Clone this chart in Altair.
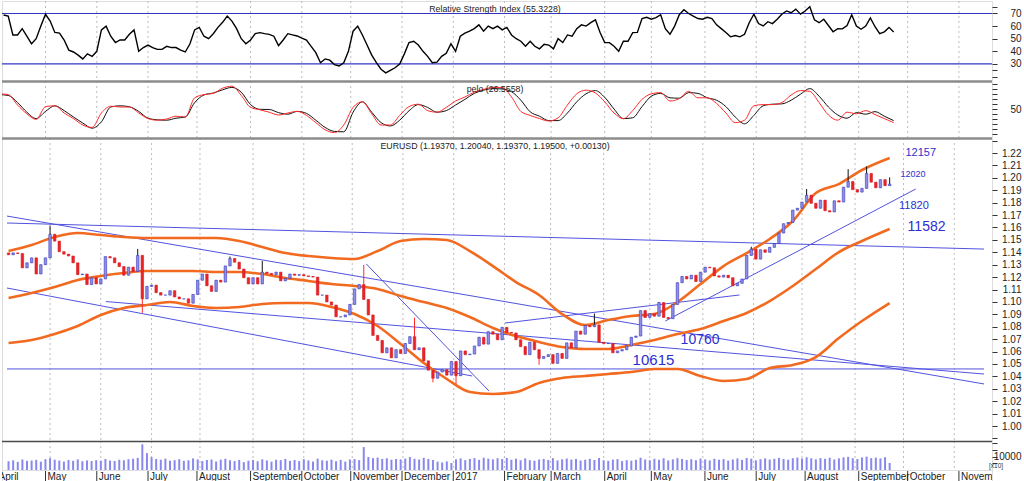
import altair as alt
import pandas as pd

FONT = "Liberation Sans"

# ---------------- values ----------------
# x position = trading-day index t (t = 0 is 2 May 2016, one unit per trading day)
X_DOMAIN = [-18.67, 406.2]

# EURUSD closes, every 2nd trading day, t = -18, -16, ..., 364
CANDLE_T_START, CANDLE_STEP = -18, 2
first_open = 1.1395
closes = [
    1.1380, 1.1395, 1.1390, 1.1275, 1.1315, 1.1355, 1.1225, 1.1300, 1.1355,
    1.1545, 1.1490, 1.1405, 1.1385, 1.1370, 1.1315, 1.1220, 1.1225, 1.1140, 1.1195,
    1.1145, 1.1185, 1.1365, 1.1355, 1.1315, 1.1285, 1.1215, 1.1280, 1.1245, 1.1375,
    1.1025, 1.1125, 1.1135, 1.1075, 1.1055, 1.1055, 1.1090, 1.1040, 1.1025, 1.1025,
    1.0990, 1.1060, 1.1175, 1.1225, 1.1130, 1.1085, 1.1175, 1.1160, 1.1290, 1.1350,
    1.1320, 1.1265, 1.1195, 1.1145, 1.1195, 1.1145, 1.1240, 1.1230, 1.1220, 1.1240,
    1.1170, 1.1190, 1.1225, 1.1215, 1.1220, 1.1210, 1.1205, 1.1200, 1.1055, 1.1055,
    1.1000, 1.0975, 1.0880, 1.0880, 1.0895, 1.0980, 1.1105, 1.1140, 1.1020, 1.0895,
    1.0730, 1.0690, 1.0590, 1.0630, 1.0550, 1.0615, 1.0585, 1.0665, 1.0720, 1.0615,
    1.0630, 1.0525, 1.0450, 1.0385, 1.0435, 1.0455, 1.0410, 1.0520, 1.0405, 1.0605,
    1.0575, 1.0580, 1.0645, 1.0715, 1.0660, 1.0760, 1.0740, 1.0695, 1.0795, 1.0755,
    1.0750, 1.0695, 1.0640, 1.0575, 1.0675, 1.0615, 1.0545, 1.0560, 1.0575, 1.0505,
    1.0585, 1.0545, 1.0670, 1.0630, 1.0765, 1.0740, 1.0810, 1.0800, 1.0815, 1.0675,
    1.0665, 1.0665, 1.0590, 1.0605, 1.0615, 1.0645, 1.0715, 1.0725, 1.0930, 1.0875,
    1.0905, 1.0885, 1.0995, 1.0875, 1.0865, 1.0980, 1.1155, 1.1205, 1.1185, 1.1215,
    1.1165, 1.1240, 1.1280, 1.1275, 1.1210, 1.1200, 1.1215, 1.1195, 1.1130, 1.1150,
    1.1185, 1.1375, 1.1425, 1.1345, 1.1420, 1.1400, 1.1440, 1.1470, 1.1555, 1.1630,
    1.1640, 1.1740, 1.1755, 1.1805, 1.1860, 1.1795, 1.1755, 1.1820, 1.1735, 1.1725,
    1.1815, 1.1805, 1.1925, 1.1970, 1.1905, 1.1885, 1.1915, 1.2035, 1.1965, 1.1920,
    1.1985, 1.1937, 1.1950,
]
# visible wick extremes
spike_high = {0: 1.1616, 38: 1.1427, 78: 1.1366, 92: 1.1330, 136: 1.1299, 158: 1.0874,
              236: 1.0906, 264: 1.1000, 304: 1.1445, 328: 1.1910, 346: 1.2070,
              354: 1.2092, 364: 1.2004}
spike_low = {40: 1.0912, 166: 1.0352, 176: 1.0340, 212: 1.0494}

volume = [
    6500, 7200, 6000, 7800, 6800, 7000, 7500, 6200, 8000,
    8800, 7600, 7000, 6200, 7400, 6800, 7900, 6500, 7100, 6600,
    7300, 6900, 8200, 7000, 6700, 7600, 7200, 8000, 8400, 9000,
    19000, 12500, 9500, 8200, 7600, 8400, 6900, 7300, 8000, 6800,
    7200, 8600, 7900, 6600, 7400, 7800, 6300, 7700, 8300, 7200,
    6600, 7500, 5800, 6900, 7400, 6400, 7900, 7100, 6200, 7600,
    7300, 8200, 6800, 7400, 6600, 8000, 7100, 6300, 8400, 7200,
    6900, 7700, 6500, 7400, 6200, 7800, 8100, 7300, 17000, 9600,
    8800, 9200, 8200, 8700, 7600, 8100, 7900, 8500, 9600, 8300,
    7800, 9000, 8200, 7400, 6200, 5600, 6400, 5200, 7900, 8600,
    7300, 8200, 8800, 7500, 9100, 8400, 7900, 8700, 8100, 9000,
    7600, 8400, 7200, 8600, 7300, 6900, 7800, 8200, 7400, 8800,
    7100, 7900, 8500, 7700, 8200, 7000, 7600, 8300, 7400, 8900,
    7200, 6800, 7700, 8100, 6600, 7300, 6900, 7500, 9100, 7800,
    7200, 8300, 7600, 8700, 7100, 7900, 8800, 8200, 7400, 8000,
    7300, 8500, 7900, 7100, 8300, 7600, 8100, 7000, 7800, 8600,
    7500, 8900, 8400, 7200, 8000, 8600, 7700, 8300, 9000, 8100,
    7600, 8800, 9200, 8500, 9400, 8700, 7900, 8800, 8300, 9100,
    7800, 8600, 9400, 9800, 8700, 8200, 9300, 9900, 8800, 9200,
    8600, 9500, 5200,
]

rsi = [
    68.8, 68, 53, 53, 58, 52, 46, 50, 60,
    69.4, 64, 55, 54.5, 49, 41, 39.5, 37, 34, 38, 36, 40, 57, 60, 52, 47, 49, 49, 53.5, 57,
    40, 43, 45, 43, 41.6, 41.6, 44, 43, 43, 41, 39.5, 46, 57, 59, 52, 50, 54, 59, 63, 68,
    64, 58, 50, 46, 49, 54, 54.8, 54, 53.5, 52, 44.5, 49, 54, 53, 52.2, 50.5, 49, 44, 39, 31,
    34, 33, 29.5, 28.4, 31, 40, 56, 60, 53, 45, 37, 31, 25.8, 23, 25, 27, 30, 38, 47, 48,
    45, 40, 36, 31, 31.5, 36, 38.5, 46, 40, 52, 54.5, 56, 58, 61, 56, 60, 58, 60, 57, 59,
    53, 50, 48, 44, 48, 44, 42, 45.6, 45, 42, 50, 47, 53, 52, 58, 61, 60, 62.7, 65, 55,
    47, 46.9, 44, 40, 48, 48, 54.8, 55, 66, 67, 65.5, 66.7, 69, 58, 53.5, 60, 69, 73, 70, 68,
    66, 65.5, 67, 66, 61, 58, 55, 51.5, 52.5, 51.5, 53.5, 62.7, 69.4, 62, 60.1, 63.5, 62, 65.4, 69.4, 72,
    70.6, 73.5, 69.5, 72, 75.4, 65, 62.7, 65.4, 60.5, 55.5, 58, 57.8, 60.5, 69, 60, 57.5, 60, 66.5, 59.5, 54,
    55.5, 59, 55.3,
]

# "pelo" oscillator, every 4th trading day, t = -20, -16, ..., 364
PELO_T_START, PELO_STEP = -20, 4
pelo_black = [
    68, 67, 58, 46, 38, 47, 54, 48, 40, 32.5,
    26, 34, 52.5, 54, 52.8, 47, 38.5, 36.5, 36, 38.5,
    40, 58, 67.5, 70, 74, 77, 71, 55.5, 49.6, 49.4,
    45.5, 43.5, 47, 44.5, 36, 27, 22, 21.5, 46, 59,
    46, 33, 28.8, 36, 47.7, 55.5, 52, 46, 48, 55,
    62, 69.5, 73.5, 75.5, 75, 71.6, 61, 46.5, 41, 35.5,
    35.5, 45, 59, 69, 73, 64.5, 50, 38, 39, 53,
    66, 69.5, 64, 63.5, 70.5, 69.5, 64, 61, 53, 40,
    31.5, 42, 54, 56, 56.4, 61, 68.5, 75.5, 66, 52.5,
    42.5, 38.5, 45.5, 43.5, 46.7, 41, 35.5,
]
pelo_red = [
    69, 68, 55, 44, 37, 53, 54, 45, 38, 30,
    27, 45, 53.5, 52.5, 52.5, 45, 38, 36, 37.5, 41,
    40, 64, 68, 69.5, 76, 78.5, 67, 52, 49, 46,
    42.5, 45, 47, 42, 33, 24, 20.5, 30, 52, 59,
    44, 30, 30, 42, 53, 56, 48, 46, 52, 60,
    65, 71, 74.5, 77, 77, 65, 47, 42, 38, 35,
    39, 55, 69, 73.5, 70, 59, 45, 38, 48, 62,
    69, 70.5, 60, 63, 72, 64, 64, 57, 45, 33,
    36, 54, 55.5, 55.5, 58, 67.5, 73, 72, 58, 42.5,
    36, 46, 44, 48, 43, 38, 33,
]

# bands, read every 10th trading day plus the last bar
band_t = [-18 + 10 * k for k in range(38)] + [364]
band_upper = [
    1.1410, 1.1459, 1.1523, 1.1555, 1.1539, 1.1523, 1.1515, 1.1515, 1.1515, 1.1515,
    1.1491, 1.1443, 1.1394, 1.1370, 1.1354, 1.1346, 1.1410, 1.1491, 1.1507, 1.1499,
    1.1410, 1.1289, 1.1160, 1.1056, 1.0902, 1.0814, 1.0854, 1.0887, 1.0903, 1.0999,
    1.1144, 1.1289, 1.1394, 1.1507, 1.1652, 1.1878, 1.1950, 1.2063, 1.2160,
]
band_mid = [
    1.1032, 1.1072, 1.1120, 1.1177, 1.1209, 1.1233, 1.1249, 1.1249, 1.1249, 1.1241,
    1.1241, 1.1225, 1.1193, 1.1169, 1.1144, 1.1128, 1.1104, 1.1048, 1.0999, 1.0951,
    1.0878, 1.0790, 1.0725, 1.0677, 1.0637, 1.0621, 1.0621, 1.0653, 1.0693, 1.0742,
    1.0782, 1.0846, 1.0911, 1.1007, 1.1128, 1.1265, 1.1402, 1.1491, 1.1588,
]
band_lower = [
    1.0669, 1.0693, 1.0742, 1.0806, 1.0895, 1.0951, 1.0975, 1.1000, 1.0967, 1.0951,
    1.0959, 1.0983, 1.0991, 1.0991, 1.0959, 1.0903, 1.0806, 1.0661, 1.0508, 1.0379,
    1.0274, 1.0258, 1.0274, 1.0347, 1.0387, 1.0403, 1.0419, 1.0435, 1.0459, 1.0459,
    1.0403, 1.0363, 1.0379, 1.0467, 1.0492, 1.0556, 1.0709, 1.0846, 1.0991,
]

# drawn trend lines: (t1, price1, t2, price2)
trend_t1 = [-18.67, -18.67, -18.67, 24.2, 137.1, 197.2, 266.7, -18.67]
trend_p1 = [1.1636, 1.1692, 1.1112, 1.1003, 1.1306, 1.0830, 1.0846, 1.0460]
trend_t2 = [404.9, 404.9, 183.0, 404.9, 190.3, 298.9, 375.3, 404.9]
trend_p2 = [1.1426, 1.0339, 1.0403, 1.0419, 1.0282, 1.1056, 1.1910, 1.0460]

month_labels = ["April", "May", "June", "July", "August", "September", "October",
                "November", "December", "2017", "February", "March", "April", "May",
                "June", "July", "August", "September", "October", "November"]
month_t = [-21, 0, 22, 44, 65, 88, 110, 131, 153, 175, 197, 217, 240, 260, 283,
           305, 326, 349, 370, 392]

ann_text = ["12157", "12020", "11820", "11582", "10760", "10615"]
ann_t = [377.5, 374.1, 374.5, 380.0, 281.8, 261.6]
ann_p = [1.2200, 1.2027, 1.1777, 1.1604, 1.0693, 1.0536]
ann_font = [11, 9, 11, 14, 14, 15]

rsi_title = "Relative Strength Index (55.3228)"
pelo_title = "pelo (26.5558)"
price_title = "EURUSD (1.19370, 1.20040, 1.19370, 1.19500, +0.00130)"

# ---------------- tables ----------------
ts = [CANDLE_T_START + CANDLE_STEP * i for i in range(len(closes))]
opens = [first_open] + closes[:-1]
candle_rows = []
for t, o, c in zip(ts, opens, closes):
    hi = max(o, c, spike_high.get(t, 0.0))
    lo = min(o, c, spike_low.get(t, 9.0))
    candle_rows.append(dict(t=t, open=o, close=c, high=hi, low=lo,
                            dir="up" if c >= o else "down"))
candles = pd.DataFrame(candle_rows)
vol_df = pd.DataFrame({"t": ts, "vol": volume})
rsi_df = pd.DataFrame({"t": ts, "rsi": rsi})
pelo_ts = [PELO_T_START + PELO_STEP * i for i in range(len(pelo_black))]
pelo_df = pd.concat([
    pd.DataFrame({"t": pelo_ts, "v": pelo_black, "s": "black"}),
    pd.DataFrame({"t": pelo_ts, "v": pelo_red, "s": "red"}),
])
bands = pd.concat([
    pd.DataFrame({"t": band_t, "p": band_upper, "b": "upper"}),
    pd.DataFrame({"t": band_t, "p": band_mid, "b": "mid"}),
    pd.DataFrame({"t": band_t, "p": band_lower, "b": "lower"}),
])
trends = pd.DataFrame({"t1": trend_t1, "p1": trend_p1, "t2": trend_t2, "p2": trend_p2})
months = pd.DataFrame({"t": month_t, "label": month_labels})
ann = pd.DataFrame({"t": ann_t, "p": ann_p, "txt": ann_text, "fs": ann_font})

# ---------------- encodings ----------------
W = 990
xscale = alt.Scale(domain=X_DOMAIN, nice=False, zero=False)


def X(f="t"):
    return alt.X(f, type="quantitative", scale=xscale, axis=None, title=None)


def axis(values, label_expr=None):
    kw = dict(orient="right", values=values, domain=False, grid=False, tickSize=5,
              tickColor="#333333", labelAlign="right", labelPadding=24,
              labelFontSize=10, labelFont=FONT, labelColor="#222222", title=None)
    if label_expr:
        kw["labelExpr"] = label_expr
    return alt.Axis(**kw)


rsi_scale = alt.Scale(domain=[16.5, 79.9], nice=False, zero=False)
rsi_axis = axis([20, 25, 30, 40, 50, 60, 70, 75],
                "(datum.value % 10 == 0 && datum.value >= 30) ? format(datum.value, 'd') : ''")
pelo_scale = alt.Scale(domain=[13.75, 85], nice=False, zero=False)
pelo_axis = axis([18.75, 25, 31.25, 37.5, 43.75, 50, 56.25, 62.5, 68.75, 75, 81.25],
                 "datum.value == 50 ? '50' : ''")
main_scale = alt.Scale(domain=[0.98793, 1.2321], nice=False, zero=False)
main_axis = axis([round(0.99 + 0.01 * i, 2) for i in range(25)],
                 "(datum.value < 0.995 || datum.value > 1.225) ? '' : format(datum.value, '.2f')")
vol_scale = alt.Scale(domain=[0, 21500], nice=False, zero=True)
vol_axis = axis([5000, 10000, 15000, 20000],
                "datum.value == 10000 ? '10000' : ''")


def Yr(f):
    return alt.Y(f, type="quantitative", scale=rsi_scale, axis=rsi_axis, title=None)


def Yp(f):
    return alt.Y(f, type="quantitative", scale=pelo_scale, axis=pelo_axis, title=None)


def Ym(f):
    return alt.Y(f, type="quantitative", scale=main_scale, axis=main_axis, title=None)


def Yv(f):
    return alt.Y(f, type="quantitative", scale=vol_scale, axis=vol_axis, title=None)


def grid():
    return alt.Chart(months).mark_rule(color="#bdbdbd", strokeDash=[2, 3], strokeWidth=1,
                                       clip=True).encode(x=X())


def separator(color="#8c8c8c", width=2.5):
    return alt.Chart(pd.DataFrame({"k": [0]})).mark_rule(color=color, strokeWidth=width).encode(
        y=alt.value(0.5))


def title_text(txt, y):
    return alt.Chart(pd.DataFrame({"txt": [txt]})).mark_text(
        font=FONT, fontSize=8.8, color="#222222", align="center", baseline="middle").encode(
        x=alt.value(493), y=alt.value(y), text="txt:N")


# ---------------- panels ----------------
rsi_panel = alt.layer(
    grid(),
    alt.Chart(pd.DataFrame({"lvl": [30, 70]})).mark_rule(color="#3434c4", strokeWidth=1.2).encode(
        y=Yr("lvl")),
    alt.Chart(rsi_df).mark_line(color="black", strokeWidth=1.4, clip=True).encode(
        x=X(), y=Yr("rsi")),
    title_text(rsi_title, 8),
).properties(width=W, height=80)

pelo_panel = alt.layer(
    grid(),
    separator(),
    alt.Chart(pelo_df).mark_line(strokeWidth=1, clip=True, interpolate="monotone").encode(
        x=X(), y=Yp("v"),
        color=alt.Color("s:N", scale=alt.Scale(domain=["black", "red"],
                                               range=["#111111", "#ff2a2a"]), legend=None)),
    title_text(pelo_title, 8),
).properties(width=W, height=57)

candle_fill = alt.Scale(domain=["up", "down"], range=["#8e8ee6", "#e8242a"])
candle_line = alt.Scale(domain=["up", "down"], range=["#3d3dc2", "#d81e22"])

main_panel = alt.layer(
    grid(),
    separator(),
    alt.Chart(trends).mark_rule(color="#5252e0", strokeWidth=1, clip=True).encode(
        x=X("t1"), x2=alt.X2("t2"), y=Ym("p1"), y2=alt.Y2("p2")),
    alt.Chart(bands).mark_line(color="#f26a1f", strokeWidth=2.6, clip=True,
                               interpolate="monotone").encode(
        x=X(), y=Ym("p"), detail="b:N"),
    alt.Chart(candles).mark_rule(strokeWidth=1, clip=True).encode(
        x=X(), y=Ym("low"), y2=alt.Y2("high"),
        color=alt.Color("dir:N", scale=candle_line, legend=None)),
    alt.Chart(candles).mark_bar(size=2.5, strokeWidth=0.6, clip=True).encode(
        x=X(), y=Ym("open"), y2=alt.Y2("close"),
        fill=alt.Fill("dir:N", scale=candle_fill, legend=None),
        stroke=alt.Stroke("dir:N", scale=candle_line, legend=None)),
    alt.Chart(ann).mark_text(font=FONT, color="#2e2ed0", align="center",
                             baseline="middle").encode(
        x=X(), y=Ym("p"), text="txt:N",
        size=alt.Size("fs:Q", scale=None, legend=None)),
    title_text(price_title, 8),
).properties(width=W, height=303)

vol_panel = alt.layer(
    grid(),
    separator("#4a4a4a", 1.5),
    alt.Chart(vol_df).mark_bar(size=2, color="#8888ee", clip=True).encode(
        x=X(), y=Yv("vol")),
    alt.Chart(pd.DataFrame({"txt": ["[x10]"]})).mark_text(
        font=FONT, fontSize=6.5, color="#333333", align="left", baseline="middle").encode(
        x=alt.value(W - 3), y=alt.value(25), text="txt:N"),
).properties(width=W, height=29)

strip = alt.layer(
    alt.Chart(months).mark_rule(color="#333333", strokeWidth=1, clip=True).encode(
        x=X(), y=alt.value(1), y2=alt.value(12)),
    alt.Chart(months).mark_text(font=FONT, fontSize=10, color="#222222", align="left",
                                baseline="middle", dx=2, clip=True).encode(
        x=X(), y=alt.value(6.5), text="label:N"),
).properties(width=W, height=12)

chart = alt.vconcat(rsi_panel, pelo_panel, main_panel, vol_panel, strip,
                    spacing=0, bounds="flush").properties(
    padding=0, background="white"
).configure_view(stroke=None).configure(font=FONT)

chart.save("out.html", embed_options={"renderer": "svg", "actions": False})
